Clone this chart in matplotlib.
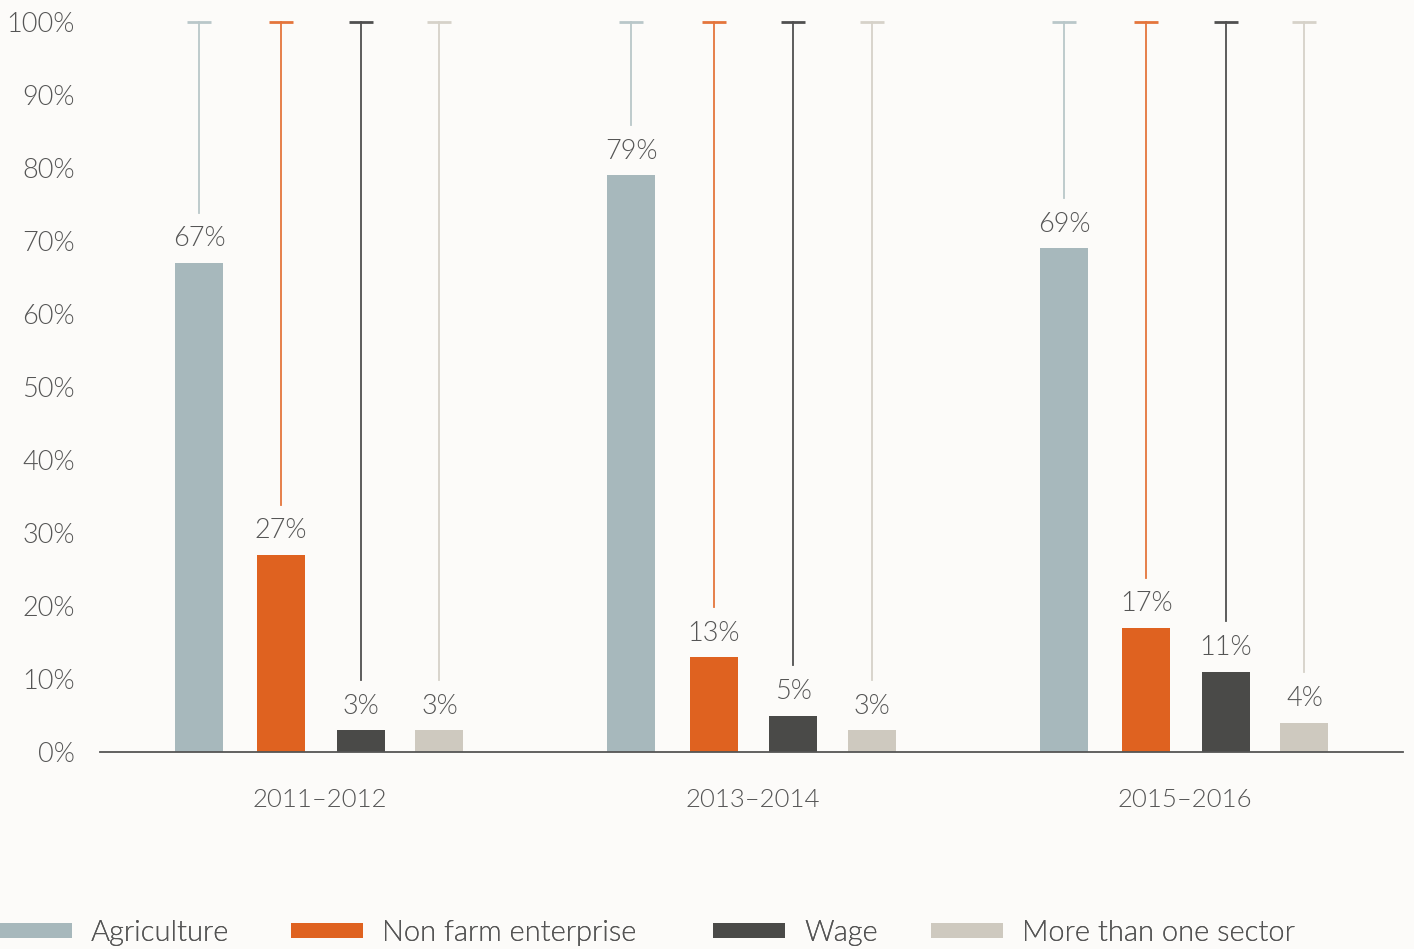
import matplotlib
matplotlib.use("Agg")
import matplotlib.pyplot as plt
import numpy as np
from matplotlib.patches import Patch

periods = ["2011\u20132012", "2013\u20132014", "2015\u20132016"]
series_names = ["Agriculture", "Non farm enterprise", "Wage", "More than one sector"]
agriculture = [67, 79, 69]
non_farm = [27, 13, 17]
wage = [3, 5, 11]
more_than_one = [3, 3, 4]
values = [agriculture, non_farm, wage, more_than_one]
colors = ["#a7b8bc", "#df6220", "#4a4a48", "#cec9bf"]
line_colors = ["#b9c7c9", "#e4753c", "#505050", "#d6d2c9"]
yticks = list(range(0, 101, 10))
legend_x = [0, 291, 713, 931]

bg = "#fcfbf9"
txt = "#555555"
plt.rcParams['font.family'] = ['Lato', 'DejaVu Sans']

fig = plt.figure(figsize=(14.14, 9.49), dpi=100, facecolor=bg)
ax = fig.add_axes([100/1414, 1-752/949, 1303/1414, 730/949], facecolor=bg)

x = np.arange(len(periods))
offsets = [-0.28, -0.09, 0.094, 0.276]
width = 0.111
for i, (vals, c, lc) in enumerate(zip(values, colors, line_colors)):
    xs = x + offsets[i]
    ax.bar(xs, vals, width=width, color=c, zorder=2)
    for xi, v in zip(xs, vals):
        ax.text(xi, v + 3.3, f"{v}%", ha="center", va="center", fontsize=19.5,
                color=txt, fontweight=300)
        ax.plot([xi, xi], [v + 6.9, 100], color=lc, lw=1.3, clip_on=False, zorder=1)
        ax.plot([xi - width/4, xi + width/4], [100, 100], color=lc, lw=2,
                clip_on=False, solid_capstyle="butt")

ax.set_xlim(-0.509, 2.504)
ax.set_ylim(0, 100)
ax.set_yticks(yticks)
ax.set_yticklabels([f"{t}%" for t in yticks], fontsize=19.5, color=txt, fontweight=300)
ax.set_xticks(x)
ax.set_xticklabels(periods, fontsize=18.5, color=txt, fontweight=300)
ax.tick_params(axis="y", length=0, pad=18)
ax.tick_params(axis="x", length=0, pad=26)
for s in ["top", "right", "left"]:
    ax.spines[s].set_visible(False)
ax.spines["bottom"].set_color("#555555")
ax.spines["bottom"].set_linewidth(1.3)

for name, c, lx in zip(series_names, colors, legend_x):
    leg = fig.legend([Patch(facecolor=c, edgecolor="none")], [name], loc="center left",
                     bbox_to_anchor=(lx/1414, 1-933/949), frameon=False,
                     handlelength=2.47, handleheight=0.45, handletextpad=0.65,
                     borderaxespad=0, borderpad=0, labelcolor=txt,
                     prop={'weight': 300, 'size': 21})
    fig.add_artist(leg)

fig.savefig("out.png", dpi=100, facecolor=bg)
